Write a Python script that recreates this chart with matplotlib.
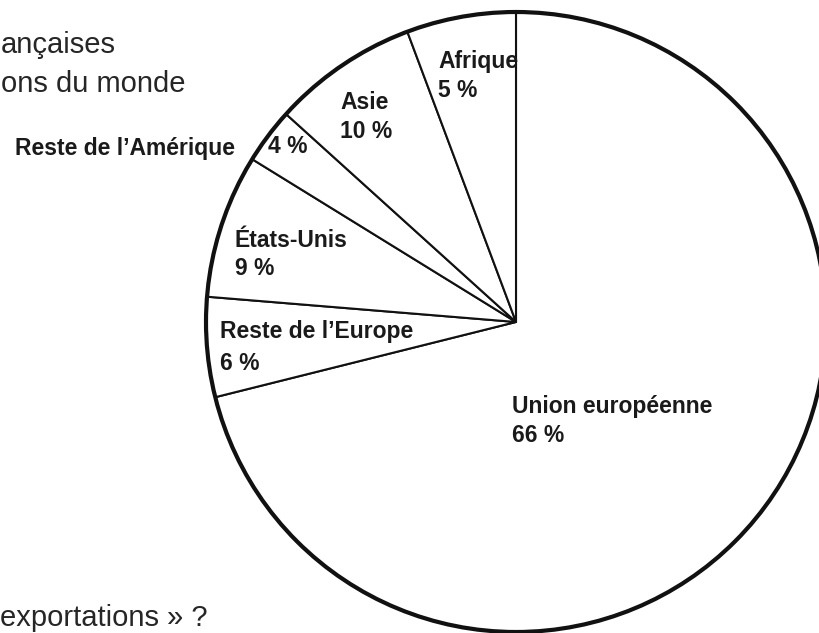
import matplotlib
matplotlib.use("Agg")
import matplotlib.pyplot as plt
from matplotlib.patches import Circle

# Data (order: clockwise from the top)
regions = ["Union européenne", "Reste de l’Europe", "États-Unis",
           "Reste de l’Amérique", "Asie", "Afrique"]
labels_pct = ["66 %", "6 %", "9 %", "4 %", "10 %", "5 %"]
# slice sizes as drawn in the picture (measured angles, in % of the circle)
drawn_share = [71.1, 5.2, 7.5, 2.9, 7.6, 5.7]

W, H = 820, 633
fig = plt.figure(figsize=(W / 100, H / 100), dpi=100)
ax = fig.add_axes([0, 0, 1, 1])

cx, cy, R = 516, H - 322, 310
ax.pie(drawn_share, startangle=90, counterclock=False, center=(cx, cy), radius=R,
       colors=["white"] * len(drawn_share),
       wedgeprops=dict(edgecolor="#111111", linewidth=1.5))
ax.add_patch(Circle((cx, cy), R, fill=False, edgecolor="#111111", linewidth=3.0, zorder=5))
ax.set_xlim(0, W)
ax.set_ylim(0, H)
ax.set_aspect("equal")
ax.axis("off")

bold = dict(family=["Liberation Sans", "DejaVu Sans"], fontweight="bold",
            fontsize=16.5, color="#1a1a1a", va="baseline")

def put(x, y, s, ha="left"):
    ax.text(x, H - y, s, ha=ha, **bold)

put(512, 413, regions[0]); put(512, 442, labels_pct[0])
put(220, 338, regions[1]); put(220, 370, labels_pct[1])
put(235, 247, regions[2]); put(235, 275, labels_pct[2])
put(235, 155, regions[3], ha="right"); put(268, 153, labels_pct[3])
put(340, 109, regions[4]); put(340, 138, labels_pct[4])
put(438, 68, regions[5]); put(438, 97, labels_pct[5])

reg = dict(family=["Liberation Sans", "DejaVu Sans"], fontsize=21, color="#262626",
           va="baseline", ha="left")
ax.text(1, H - 53, "ançaises", **reg)
ax.text(1, H - 92, "ons du monde", **reg)
ax.text(0, H - 626, "exportations » ?", **reg)

fig.savefig("out.png", dpi=100)
